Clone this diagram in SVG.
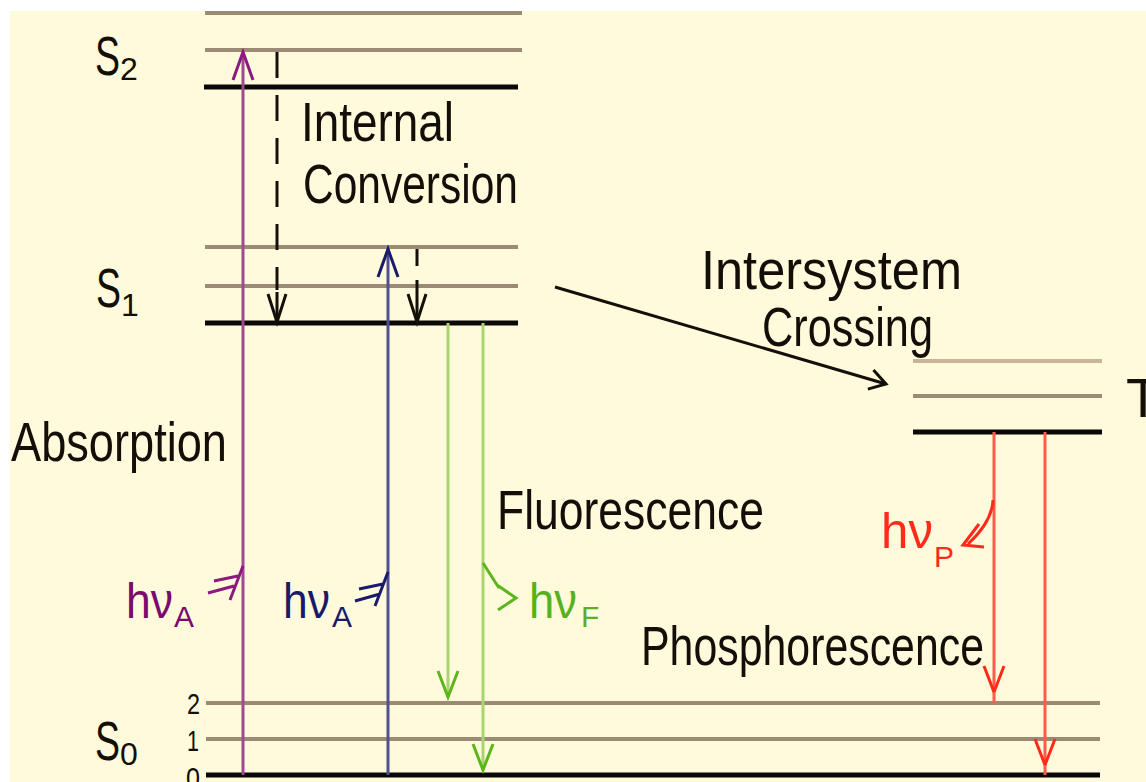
<svg xmlns="http://www.w3.org/2000/svg" width="1146" height="782" viewBox="0 0 1146 782">
<style>
.bg{fill:#FFFADC}
.lv{stroke:#9C8B74;stroke-width:4;fill:none}
.lv0{stroke:#0A0806;stroke-width:5;fill:none}
.lbl{font-family:"Liberation Sans",Arial,sans-serif;font-size:56px;fill:#140E08}
.dig{font-family:"Liberation Sans",Arial,sans-serif;font-size:30px;fill:#140E08}
.sub{font-size:32px}
.hv{font-family:"Liberation Sans",Arial,sans-serif;font-size:50px}
.hvs{font-size:30px}
.pur{stroke:#A04890;stroke-width:3;fill:none}
.blu{stroke:#50508F;stroke-width:3;fill:none}
.grn{stroke:#AAD46E;stroke-width:3;fill:none}
.red{stroke:#FF5A4A;stroke-width:3;fill:none}
.blk{stroke:#141008;stroke-width:3;fill:none}
.dash{stroke:#141008;stroke-width:3;fill:none;stroke-dasharray:26 17}
</style>
<defs>
<marker id="ahPur" markerUnits="userSpaceOnUse" orient="auto" refX="0" refY="0" markerWidth="40" markerHeight="40" overflow="visible"><path d="M-28,-10 L0,0 L-28,10" fill="none" stroke="#8A1A7E" stroke-width="3"/></marker>
<marker id="ahBlu" markerUnits="userSpaceOnUse" orient="auto" refX="0" refY="0" markerWidth="40" markerHeight="40" overflow="visible"><path d="M-28,-10 L0,0 L-28,10" fill="none" stroke="#1A1A6A" stroke-width="3"/></marker>
<marker id="ahGrn" markerUnits="userSpaceOnUse" orient="auto" refX="0" refY="0" markerWidth="40" markerHeight="40" overflow="visible"><path d="M-26,-10 L0,0 L-26,10" fill="none" stroke="#5DB51E" stroke-width="3"/></marker>
<marker id="ahRed" markerUnits="userSpaceOnUse" orient="auto" refX="0" refY="0" markerWidth="40" markerHeight="40" overflow="visible"><path d="M-26,-10 L0,0 L-26,10" fill="none" stroke="#FF2A1A" stroke-width="3"/></marker>
<marker id="ahBlk" markerUnits="userSpaceOnUse" orient="auto" refX="0" refY="0" markerWidth="40" markerHeight="40" overflow="visible"><path d="M-28,-9 L0,0 L-28,9" fill="none" stroke="#141008" stroke-width="3"/></marker>
<marker id="ahIsc" markerUnits="userSpaceOnUse" orient="auto" refX="0" refY="0" markerWidth="40" markerHeight="40" overflow="visible"><path d="M-16,-10 L0,0 L-16,10" fill="none" stroke="#141008" stroke-width="3"/></marker>
</defs>
<rect width="1146" height="782" fill="#FFFFFF"/>
<rect class="bg" x="10" y="11" width="1136" height="771"/>

<g id="S2">
<line class="lv" x1="205" y1="13" x2="522" y2="13"/>
<line class="lv" x1="205" y1="50" x2="522" y2="50"/>
<line class="lv0" x1="204" y1="87" x2="518" y2="87"/>
<text class="lbl" x="95" y="75"><tspan textLength="25" lengthAdjust="spacingAndGlyphs">S</tspan><tspan class="sub" x="120" y="80">2</tspan></text>
</g>

<g id="S1">
<line class="lv" x1="205" y1="247" x2="518" y2="247"/>
<line class="lv" x1="205" y1="286" x2="518" y2="286"/>
<line class="lv0" x1="205" y1="323" x2="518" y2="323"/>
<text class="lbl" x="96" y="307"><tspan textLength="25" lengthAdjust="spacingAndGlyphs">S</tspan><tspan class="sub" x="121" y="316">1</tspan></text>
</g>

<g id="T1">
<line class="lv" x1="913" y1="361" x2="1102" y2="361" style="stroke:#C8B498"/>
<line class="lv" x1="913" y1="396" x2="1102" y2="396"/>
<line class="lv0" x1="913" y1="432" x2="1102" y2="432"/>
<text class="lbl" x="1126" y="417">T</text>
</g>

<g id="S0">
<line class="lv" x1="206" y1="703" x2="1100" y2="703"/>
<line class="lv" x1="206" y1="739" x2="1100" y2="739"/>
<line class="lv0" x1="206" y1="775" x2="1100" y2="775"/>
<text class="lbl" x="95" y="760"><tspan textLength="25" lengthAdjust="spacingAndGlyphs">S</tspan><tspan class="sub" x="120" y="765">0</tspan></text>
<text class="dig" x="187" y="714" textLength="13" lengthAdjust="spacingAndGlyphs">2</text>
<text class="dig" x="187" y="751" textLength="12" lengthAdjust="spacingAndGlyphs">1</text>
<text class="dig" x="186" y="788" textLength="14" lengthAdjust="spacingAndGlyphs">0</text>
</g>

<g id="labels">
<text class="lbl" x="301" y="141" textLength="153" lengthAdjust="spacingAndGlyphs">Internal</text>
<text class="lbl" x="303" y="203" textLength="215" lengthAdjust="spacingAndGlyphs">Conversion</text>
<text class="lbl" x="11" y="461" textLength="216" lengthAdjust="spacingAndGlyphs">Absorption</text>
<text class="lbl" x="497" y="529" textLength="267" lengthAdjust="spacingAndGlyphs">Fluorescence</text>
<text class="lbl" x="701" y="289" textLength="261" lengthAdjust="spacingAndGlyphs">Intersystem</text>
<text class="lbl" x="762" y="346" textLength="171" lengthAdjust="spacingAndGlyphs">Crossing</text>
<text class="lbl" x="641" y="665" textLength="343" lengthAdjust="spacingAndGlyphs">Phosphorescence</text>
<text class="hv" x="126" y="618" fill="#7A0A6E"><tspan textLength="47" lengthAdjust="spacingAndGlyphs">hν</tspan><tspan class="hvs" x="174" y="627">A</tspan></text>
<text class="hv" x="283" y="618" fill="#1A1A6A"><tspan textLength="47" lengthAdjust="spacingAndGlyphs">hν</tspan><tspan class="hvs" x="332" y="627">A</tspan></text>
<text class="hv" x="529" y="618" fill="#58B020"><tspan textLength="48" lengthAdjust="spacingAndGlyphs">hν</tspan><tspan class="hvs" x="581" y="627">F</tspan></text>
<text class="hv" x="881" y="548" fill="#FF2A1A"><tspan textLength="52" lengthAdjust="spacingAndGlyphs">hν</tspan><tspan class="hvs" x="934" y="567">P</tspan></text>
</g>

<g id="connectors">
<line class="pur" x1="243" y1="775" x2="243" y2="52" marker-end="url(#ahPur)"/>
<path class="pur" d="M243,566 L230,600 M214,581 L238,576 M208,593 L234,586" style="stroke:#8A1A7E"/>
<line class="blu" x1="388" y1="775" x2="388" y2="249" marker-end="url(#ahBlu)"/>
<path class="blu" d="M388,572 L375,606 M359,589 L383,584 M355,601 L380,594" style="stroke:#1A1A6A"/>
<line class="grn" x1="448" y1="323" x2="448" y2="697" marker-end="url(#ahGrn)"/>
<line class="grn" x1="483" y1="323" x2="483" y2="770" marker-end="url(#ahGrn)"/>
<path class="grn" d="M483,563 L499,588 M497,585 L516,598 L498,610" style="stroke:#5DB51E"/>
<line class="red" x1="994" y1="432" x2="994" y2="692" marker-end="url(#ahRed)"/>
<line class="red" x1="994" y1="692" x2="994" y2="703"/>
<line class="red" x1="1045" y1="432" x2="1045" y2="765" marker-end="url(#ahRed)"/>
<line class="red" x1="1045" y1="765" x2="1045" y2="775"/>
<path class="red" d="M993,500 Q992,522 968,544 M979,524 L963,545 L984,547" style="stroke:#FF2A1A"/>
<line class="dash" x1="277" y1="52" x2="277" y2="290"/>
<line class="blk" x1="277" y1="292" x2="277" y2="322" marker-end="url(#ahBlk)"/>
<line class="blk" x1="417" y1="249" x2="417" y2="266"/>
<line class="blk" x1="417" y1="280" x2="417" y2="322" marker-end="url(#ahBlk)"/>
<line class="blk" x1="555" y1="287" x2="886" y2="384" marker-end="url(#ahIsc)"/>
</g>
</svg>
